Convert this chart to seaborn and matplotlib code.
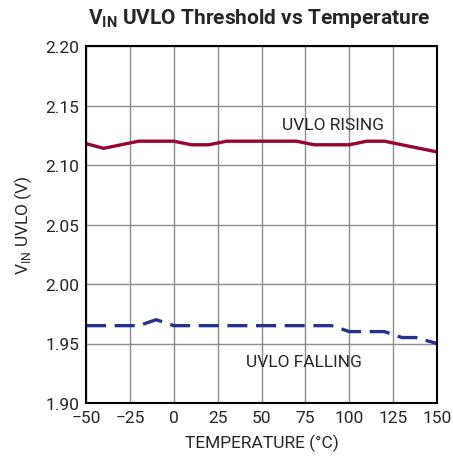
import matplotlib
matplotlib.use("Agg")
import matplotlib.pyplot as plt
import seaborn as sns
import pandas as pd

# data
rise_temp = [-50, -40, -20, 0, 10, 20, 30, 70, 80, 100, 110, 120, 150]
rise_vin = [2.118, 2.114, 2.120, 2.120, 2.117, 2.117, 2.120, 2.120, 2.117, 2.117, 2.120, 2.120, 2.111]
fall_temp = [-50, -20, -10, 0, 90, 100, 120, 130, 138, 150]
fall_vin = [1.965, 1.965, 1.970, 1.965, 1.965, 1.960, 1.960, 1.955, 1.955, 1.950]
x_ticks = [-50, -25, 0, 25, 50, 75, 100, 125, 150]
y_ticks = [1.90, 1.95, 2.00, 2.05, 2.10, 2.15, 2.20]

sns.set_style("white")
plt.rcParams['font.family'] = ['Roboto', 'Liberation Sans', 'DejaVu Sans']
plt.rcParams['mathtext.fontset'] = 'custom'
plt.rcParams['mathtext.rm'] = 'Roboto'
plt.rcParams['mathtext.bf'] = 'Roboto:bold'

fig = plt.figure(figsize=(4.53, 4.60), dpi=100)
ax = fig.add_axes([86/453, 1 - 404/460, (437-86)/453, (404-47)/460])

df_rise = pd.DataFrame({"temp": rise_temp, "vin": rise_vin})
df_fall = pd.DataFrame({"temp": fall_temp, "vin": fall_vin})
sns.lineplot(data=df_rise, x="temp", y="vin", ax=ax, color="#98062f", linewidth=2.4)
sns.lineplot(data=df_fall, x="temp", y="vin", ax=ax, color="#2a2f92", linewidth=2.4,
             linestyle=(0, (6, 2.6)))

ax.set_xlim(-50, 150)
ax.set_ylim(1.90, 2.20)
ax.set_xticks(x_ticks)
ax.set_xticklabels([str(t).replace("-", "\u2212") for t in x_ticks])
ax.set_yticks(y_ticks)
ax.set_yticklabels(["%.2f" % v for v in y_ticks])
ax.tick_params(labelsize=12.5, length=0, pad=5)
ax.grid(True, color="#8c8c8c", linewidth=1.0)
for s in ax.spines.values():
    s.set_color("black")
    s.set_linewidth(1.5)

ax.set_xlabel("TEMPERATURE (°C)", fontsize=12.5, labelpad=6)
ax.set_ylabel("V$_{\\mathrm{IN}}$ UVLO (V)", fontsize=12.5, labelpad=8)
ax.text(91, 2.134, "UVLO RISING", fontsize=12.5, ha="center", va="center")
ax.text(74, 1.935, "UVLO FALLING", fontsize=12.5, ha="center", va="center")

fig.text(259/453, 1 - 18/460, "V$_{\\mathbf{IN}}$ UVLO Threshold vs Temperature",
         fontsize=15, fontweight="bold", ha="center", va="center")

fig.savefig("out.png", dpi=100)
